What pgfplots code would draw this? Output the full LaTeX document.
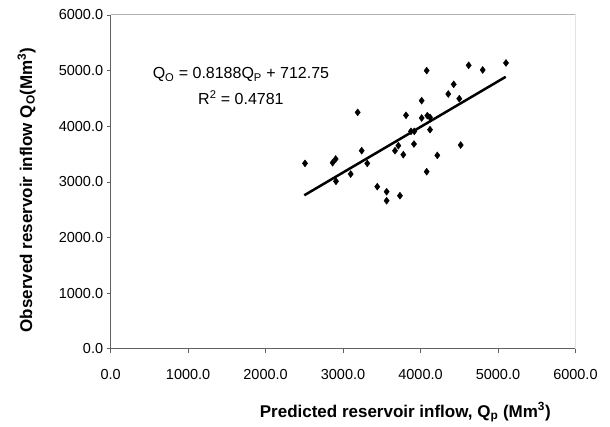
\documentclass[border=0pt]{standalone}
\usepackage{pgfplots}
\pgfplotsset{compat=1.18}
\usepackage{fontspec}
\setmainfont{Liberation Sans}

\begin{document}
\begin{tikzpicture}
  \begin{axis}[name=ax,
      scale only axis, width=465pt, height=334pt,
      xmin=0, xmax=6000, ymin=0, ymax=6000,
      xtick={0,1000,...,6000}, ytick={0,1000,...,6000},
      axis lines*=left,
      axis line style={draw=gray!75!black, line width=1pt},
      tick align=outside, major tick length=4pt,
      tick style={draw=gray!75!black, line width=0.8pt},
      ticklabel style={font=\fontsize{14.5}{17}\selectfont},
      xticklabel style={yshift=-13pt},
      /pgf/number format/.cd, fixed, fixed zerofill, precision=1,
        1000 sep={}, assume math mode=true,
      /pgfplots/.cd,
      xlabel={Predicted reservoir inflow, Q\textsubscript{p} (Mm\textsuperscript{3})},
      ylabel={Observed reservoir inflow Q\textsubscript{O}(Mm\textsuperscript{3})},
      label style={font=\fontsize{17}{20}\selectfont\bfseries},
      xlabel style={at={(axis description cs:0.634,-0.19)}, anchor=center},
      ylabel style={at={(axis description cs:-0.181,0.476)}, anchor=center},
    ]
    % plot area border (top and right)
    \draw[gray!60, line width=1pt] (rel axis cs:0,1) -- (rel axis cs:1,1) -- (rel axis cs:1,0);

    \addplot[only marks, mark=diamond*, mark size=3.5pt, black] table {
      x     y
      2509  3333
      2866  3345
      2905  3412
      2909  3010
      3099  3141
      3189  4250
      3241  3561
      3313  3333
      3442  2914
      3563  2824
      3563  2662
      3735  2752
      3671  3561
      3714  3651
      3778  3489
      3813  4197
      3877  3909
      3920  3909
      3916  3681
      4015  4460
      4015  4149
      4080  5000
      4080  3183
      4088  4191
      4123  4160
      4123  3939
      4217  3477
      4359  4580
      4429  4754
      4501  4496
      4519  3663
      4622  5096
      4803  5012
      5104  5138
    };
    % linear trend line
    \addplot[black, line width=2.5pt] coordinates {(2500,2759.75) (5100,4888.63)};

    \node[align=center, font=\fontsize{16}{26}\selectfont] at (axis cs:1682,4720)
      {Q\textsubscript{O} = 0.8188Q\textsubscript{P} + 712.75\\R\textsuperscript{2} = 0.4781};
  \end{axis}
  \path ([xshift=-110.7pt,yshift=-78pt]ax.south west) rectangle ([xshift=34.6pt,yshift=15pt]ax.north east);
\end{tikzpicture}
\end{document}
